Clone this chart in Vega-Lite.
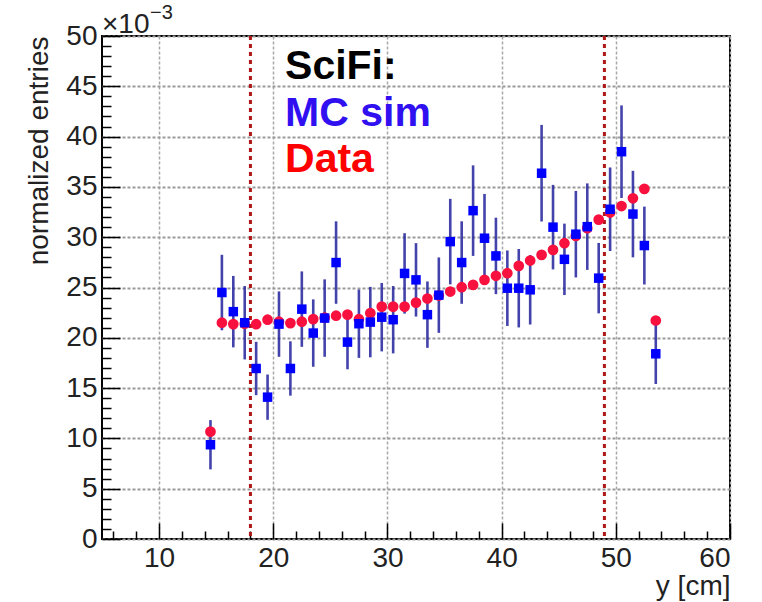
{
  "$schema": "https://vega.github.io/schema/vega-lite/v6.json",
  "width": 628,
  "height": 503,
  "autosize": {"type": "none"},
  "padding": {"left": 102, "top": 36, "right": 32, "bottom": 63},
  "background": "white",
  "config": {
    "view": {"stroke": "black", "strokeWidth": 2},
    "font": "Liberation Sans",
    "axis": {"labelFont": "Liberation Sans", "titleFont": "Liberation Sans", "labelColor": "#222", "titleColor": "#222", "titleFontWeight": "normal", "domain": false, "tickColor": "black"}
  },
  "datasets": {
    "bins": [
      {"x": 14.5, "mc": 9.37, "lo": 6.92, "hi": 11.82, "data": 10.67},
      {"x": 15.5, "mc": 24.5, "lo": 20.75, "hi": 28.25, "data": 21.5},
      {"x": 16.5, "mc": 22.6, "lo": 19.05, "hi": 26.15, "data": 21.36},
      {"x": 17.5, "mc": 21.5, "lo": 17.85, "hi": 25.15, "data": 21.4},
      {"x": 18.5, "mc": 16.95, "lo": 14.3, "hi": 19.6, "data": 21.35},
      {"x": 19.5, "mc": 14.1, "lo": 11.85, "hi": 16.35, "data": 21.8},
      {"x": 20.5, "mc": 21.36, "lo": 18.11, "hi": 24.61, "data": 21.6},
      {"x": 21.5, "mc": 16.95, "lo": 14.25, "hi": 19.65, "data": 21.46},
      {"x": 22.5, "mc": 22.85, "lo": 19.1, "hi": 26.6, "data": 21.6},
      {"x": 23.5, "mc": 20.47, "lo": 17.12, "hi": 23.82, "data": 21.86},
      {"x": 24.5, "mc": 21.96, "lo": 18.11, "hi": 25.81, "data": 22.0},
      {"x": 25.5, "mc": 27.48, "lo": 23.38, "hi": 31.58, "data": 22.2},
      {"x": 26.5, "mc": 19.57, "lo": 16.87, "hi": 22.27, "data": 22.3},
      {"x": 27.5, "mc": 21.4, "lo": 18.0, "hi": 24.8, "data": 21.85},
      {"x": 28.5, "mc": 21.56, "lo": 18.06, "hi": 25.06, "data": 22.45},
      {"x": 29.5, "mc": 22.05, "lo": 18.65, "hi": 25.45, "data": 23.1},
      {"x": 30.5, "mc": 21.8, "lo": 18.45, "hi": 25.15, "data": 23.1},
      {"x": 31.5, "mc": 26.4, "lo": 22.4, "hi": 30.4, "data": 23.1},
      {"x": 32.5, "mc": 25.76, "lo": 22.11, "hi": 29.41, "data": 23.5},
      {"x": 33.5, "mc": 22.3, "lo": 19.0, "hi": 25.6, "data": 23.9},
      {"x": 34.5, "mc": 24.24, "lo": 20.49, "hi": 27.99, "data": 24.2},
      {"x": 35.5, "mc": 29.56, "lo": 25.31, "hi": 33.81, "data": 24.6},
      {"x": 36.5, "mc": 27.48, "lo": 23.38, "hi": 31.58, "data": 25.03},
      {"x": 37.5, "mc": 32.64, "lo": 28.14, "hi": 37.14, "data": 25.26},
      {"x": 38.5, "mc": 29.9, "lo": 25.5, "hi": 34.3, "data": 25.76},
      {"x": 39.5, "mc": 28.14, "lo": 24.34, "hi": 31.94, "data": 26.16},
      {"x": 40.5, "mc": 24.93, "lo": 21.18, "hi": 28.68, "data": 26.42},
      {"x": 41.5, "mc": 24.93, "lo": 21.03, "hi": 28.83, "data": 27.15},
      {"x": 42.5, "mc": 24.77, "lo": 21.32, "hi": 28.22, "data": 27.68},
      {"x": 43.5, "mc": 36.36, "lo": 31.56, "hi": 41.16, "data": 28.24},
      {"x": 44.5, "mc": 31.0, "lo": 26.8, "hi": 35.2, "data": 28.74},
      {"x": 45.5, "mc": 27.8, "lo": 24.25, "hi": 31.35, "data": 29.4},
      {"x": 46.5, "mc": 30.3, "lo": 26.0, "hi": 34.6, "data": 30.13},
      {"x": 47.5, "mc": 31.05, "lo": 26.75, "hi": 35.35, "data": 30.9},
      {"x": 48.5, "mc": 25.93, "lo": 22.43, "hi": 29.43, "data": 31.75},
      {"x": 49.5, "mc": 32.78, "lo": 28.63, "hi": 36.93, "data": 32.45},
      {"x": 50.5, "mc": 38.5, "lo": 33.9, "hi": 43.1, "data": 33.1},
      {"x": 51.5, "mc": 32.3, "lo": 28.0, "hi": 36.6, "data": 33.87},
      {"x": 52.5, "mc": 29.17, "lo": 25.3, "hi": 33.04, "data": 34.8},
      {"x": 53.5, "mc": 18.41, "lo": 15.41, "hi": 21.41, "data": 21.72}
    ],
    "cuts": [{"x": 18}, {"x": 49}],
    "legend": [
      {"x": 21.03, "y": 45.69, "label": "SciFi:"},
      {"x": 21.03, "y": 41.05, "label": "MC sim"},
      {"x": 21.03, "y": 36.51, "label": "Data"}
    ]
  },
  "layer": [
    {
      "data": {"name": "bins"},
      "mark": {"type": "point", "opacity": 0},
      "encoding": {
        "x": {"field": "x", "type": "quantitative", "scale": {"domain": [5, 60], "nice": false, "zero": false},
          "axis": {"orient": "bottom", "values": [10, 20, 30, 40, 50, 60], "grid": true, "gridColor": "#a8a8a8", "gridDash": [3, 2], "gridWidth": 1.5, "tickSize": -16, "tickWidth": 1.5, "labelFontSize": 28, "labelPadding": 21, "title": "y [cm]", "titleAnchor": "end", "titleFontSize": 28, "titlePadding": 0}},
        "y": {"field": "data", "type": "quantitative", "scale": {"domain": [0, 50], "nice": false, "zero": false},
          "axis": {"orient": "left", "values": [0, 5, 10, 15, 20, 25, 30, 35, 40, 45, 50], "grid": true, "gridColor": "#999999", "gridDash": [3, 2], "gridWidth": 2, "tickSize": -18, "tickWidth": 1.5, "labelFontSize": 28, "labelPadding": 23, "title": "normalized entries", "titleAnchor": "end", "titleFontSize": 28, "titlePadding": 12}}
      }
    },
    {
      "data": {"name": "cuts"},
      "mark": {"type": "rule", "color": "#b01818", "strokeDash": [4, 4], "strokeWidth": 3},
      "encoding": {
        "x": {"field": "x", "type": "quantitative",
          "axis": {"orient": "bottom", "values": [6, 8, 12, 14, 16, 18, 22, 24, 26, 28, 32, 34, 36, 38, 42, 44, 46, 48, 52, 54, 56, 58], "labels": false, "grid": false, "tickSize": -8, "tickWidth": 1.5, "title": null}}
      }
    },
    {
      "data": {"name": "bins"},
      "mark": {"type": "rule", "color": "#22229c", "strokeWidth": 2.6, "opacity": 0.85},
      "encoding": {
        "x": {"field": "x", "type": "quantitative", "axis": null},
        "y": {"field": "lo", "type": "quantitative",
          "axis": {"orient": "left", "values": [1, 2, 3, 4, 6, 7, 8, 9, 11, 12, 13, 14, 16, 17, 18, 19, 21, 22, 23, 24, 26, 27, 28, 29, 31, 32, 33, 34, 36, 37, 38, 39, 41, 42, 43, 44, 46, 47, 48, 49], "labels": false, "grid": false, "tickSize": -9, "tickWidth": 1.5, "title": null}},
        "y2": {"field": "hi"}
      }
    },
    {
      "data": {"name": "bins"},
      "mark": {"type": "point", "shape": "circle", "filled": true, "size": 115, "color": "#f8103e", "opacity": 1},
      "encoding": {
        "x": {"field": "x", "type": "quantitative", "axis": null},
        "y": {"field": "data", "type": "quantitative", "axis": null}
      }
    },
    {
      "data": {"name": "bins"},
      "mark": {"type": "point", "shape": "square", "filled": true, "size": 90, "color": "#0000ff", "opacity": 1},
      "encoding": {
        "x": {"field": "x", "type": "quantitative", "axis": null},
        "y": {"field": "mc", "type": "quantitative", "axis": null}
      }
    },
    {
      "data": {"name": "legend"},
      "mark": {"type": "text", "font": "Liberation Sans", "fontWeight": "bold", "fontSize": 41, "align": "left", "baseline": "alphabetic"},
      "encoding": {
        "x": {"field": "x", "type": "quantitative", "axis": null},
        "y": {"field": "y", "type": "quantitative", "axis": null},
        "text": {"field": "label"},
        "color": {"field": "label", "type": "nominal", "scale": {"domain": ["SciFi:", "MC sim", "Data"], "range": ["#000000", "#3010f0", "#ff0000"]}, "legend": null}
      }
    },
    {
      "data": {"values": [{"t": "×10"}]},
      "mark": {"type": "text", "font": "Liberation Sans", "fontSize": 28, "align": "left", "baseline": "alphabetic", "dy": -3, "color": "#222"},
      "encoding": {
        "x": {"datum": 5, "type": "quantitative", "axis": null},
        "y": {"datum": 50, "type": "quantitative", "axis": null},
        "text": {"field": "t"}
      }
    },
    {
      "data": {"values": [{"t": "−3"}]},
      "mark": {"type": "text", "font": "Liberation Sans", "fontSize": 20, "align": "left", "baseline": "alphabetic", "dx": 48, "dy": -17, "color": "#222"},
      "encoding": {
        "x": {"datum": 5, "type": "quantitative", "axis": null},
        "y": {"datum": 50, "type": "quantitative", "axis": null},
        "text": {"field": "t"}
      }
    }
  ],
  "resolve": {"axis": {"x": "independent", "y": "independent"}}
}
